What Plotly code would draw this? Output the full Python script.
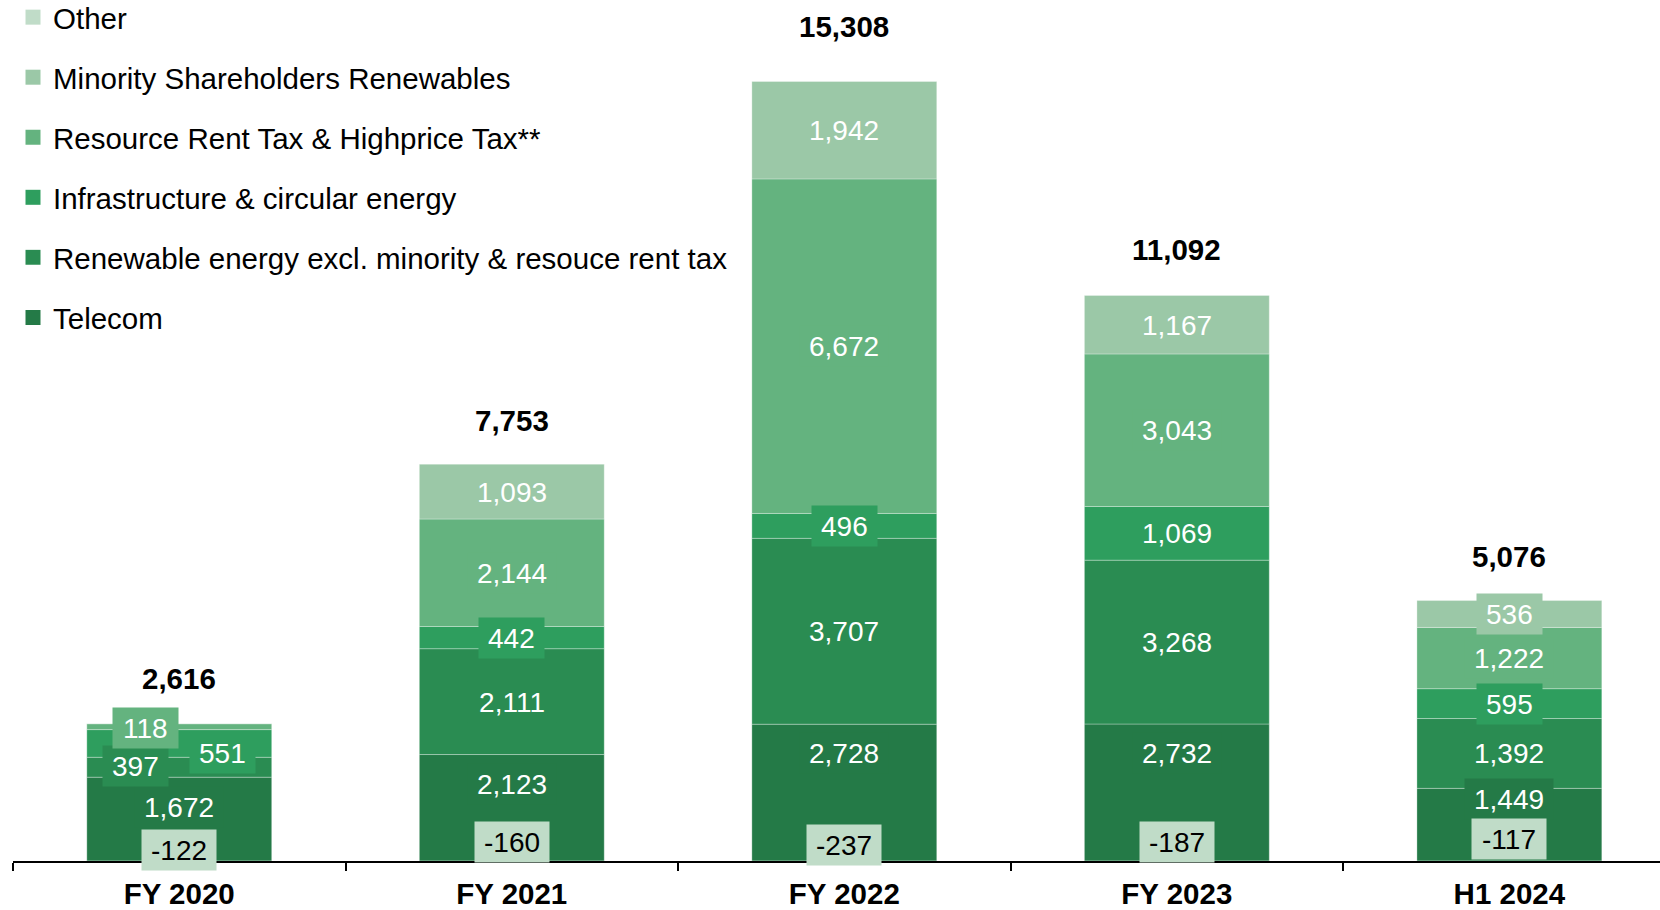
import plotly.graph_objects as go

# ---------------- data ----------------
categories = ["FY 2020", "FY 2021", "FY 2022", "FY 2023", "H1 2024"]
telecom = [1672, 2123, 2728, 2732, 1449]
renewable = [397, 2111, 3707, 3268, 1392]
infrastructure = [551, 442, 496, 1069, 595]
resource_rent_tax = [118, 2144, 6672, 3043, 1222]
minority = [0, 1093, 1942, 1167, 536]
other = [-122, -160, -237, -187, -117]
totals = [2616, 7753, 15308, 11092, 5076]

series_names = [
    "Telecom",
    "Renewable energy excl. minority & resouce rent tax",
    "Infrastructure & circular energy",
    "Resource Rent Tax & Highprice Tax**",
    "Minority Shareholders Renewables",
    "Other",
]
series_values = [telecom, renewable, infrastructure, resource_rent_tax, minority, other]
colors = ["#247A47", "#2A8C52", "#2E9E5E", "#64B37F", "#9BC8A7", "#C0DCC8"]

# ---------------- styling ----------------
FONT = "Liberation Sans, Arial, sans-serif"
FS = 28
FS_BIG = 29.5
PX_PER_UNIT = 0.050145
PLOT_H = 861
Y_MAX = PLOT_H / PX_PER_UNIT

# label pixel adjustments (dx, dy up) for specific (series index, bar index)
label_adjust = {(1, 0): (-44, 1), (2, 0): (43, -10), (3, 0): (-34, -1)}
telecom_inside_end = [-30, -29, -29, -29, -11]
total_shift = [45, 44, 55, 45.5, 44]
other_shift = [11.5, 19, 16, 19, 22.5]


def text_width(s):
    w = 0.0
    for ch in s:
        if ch.isdigit():
            w += 0.556
        elif ch == ",":
            w += 0.278
        elif ch == "-":
            w += 0.333
        else:
            w += 0.556
    return w * FS


def fmt(v):
    return f"{v:,}"


fig = go.Figure()
for i, (name, vals) in enumerate(zip(series_names, series_values)):
    fig.add_trace(go.Bar(
        x=categories, y=vals, name=name,
        marker=dict(color=colors[i], line=dict(color="rgba(255,255,255,0.3)", width=1)),
        showlegend=False, hoverinfo="skip",
    ))

# legend entries (top: Other ... bottom: Telecom)
for i in reversed(range(len(series_names))):
    fig.add_trace(go.Scatter(
        x=[None], y=[None], mode="markers", name=series_names[i],
        marker=dict(symbol="square", size=15, color=colors[i]),
        legendgroup=series_names[i], showlegend=True, hoverinfo="skip",
    ))

annotations = []
n = len(categories)
for j in range(n):
    base = 0
    for i in range(5):
        v = series_values[i][j]
        if v <= 0:
            continue
        lbl = fmt(v)
        if i == 0:
            y = base + v
            dx, dy = 0, telecom_inside_end[j]
        else:
            y = base + v / 2
            dx, dy = label_adjust.get((i, j), (0, 0))
        annotations.append(dict(
            x=categories[j], y=y, xref="x", yref="y", text=lbl, showarrow=False,
            xshift=dx, yshift=dy, font=dict(family=FONT, size=FS, color="white"),
            bgcolor=colors[i], borderpad=2, width=text_width(lbl) + 14, height=36,
            xanchor="center", yanchor="middle",
        ))
        base += v
    # other (negative) label
    lbl = fmt(other[j])
    annotations.append(dict(
        x=categories[j], y=0, xref="x", yref="y", text=lbl, showarrow=False,
        yshift=other_shift[j], font=dict(family=FONT, size=FS, color="black"),
        bgcolor=colors[5], borderpad=2, width=text_width(lbl) + 14, height=36,
        xanchor="center", yanchor="middle",
    ))
    # total label
    pos_sum = sum(series_values[i][j] for i in range(5))
    annotations.append(dict(
        x=categories[j], y=pos_sum, xref="x", yref="y", text=fmt(totals[j]),
        showarrow=False, yshift=total_shift[j],
        font=dict(family=FONT, size=FS_BIG, color="black", weight="bold"),
        xanchor="center", yanchor="middle",
    ))

fig.update_layout(
    width=1660, height=910,
    margin=dict(l=13, r=0, t=0, b=49, pad=0, autoexpand=False),
    barmode="relative", bargap=0.444,
    plot_bgcolor="white", paper_bgcolor="white",
    font=dict(family=FONT, size=FS, color="black"),
    showlegend=True,
    legend=dict(
        x=0.0, y=1.0099, xanchor="left", yanchor="top",
        traceorder="grouped", tracegroupgap=18.7, itemsizing="trace",
        font=dict(family=FONT, size=FS_BIG, color="black"),
        bgcolor="rgba(0,0,0,0)", borderwidth=0,
    ),
    annotations=annotations,
)
fig.update_xaxes(
    range=[-0.5, 4.453], showline=True, linecolor="black", linewidth=1.5,
    ticks="outside", tickson="boundaries", ticklen=8, tickcolor="black", tickwidth=1.5,
    ticklabelstandoff=6, automargin=False,
    tickfont=dict(family=FONT, size=FS_BIG, color="black", weight="bold"),
    showgrid=False, zeroline=False, fixedrange=True,
)
fig.update_yaxes(
    range=[0, Y_MAX], visible=False, showgrid=False, zeroline=False, fixedrange=True,
    automargin=False,
)

fig.write_html("out.html")
